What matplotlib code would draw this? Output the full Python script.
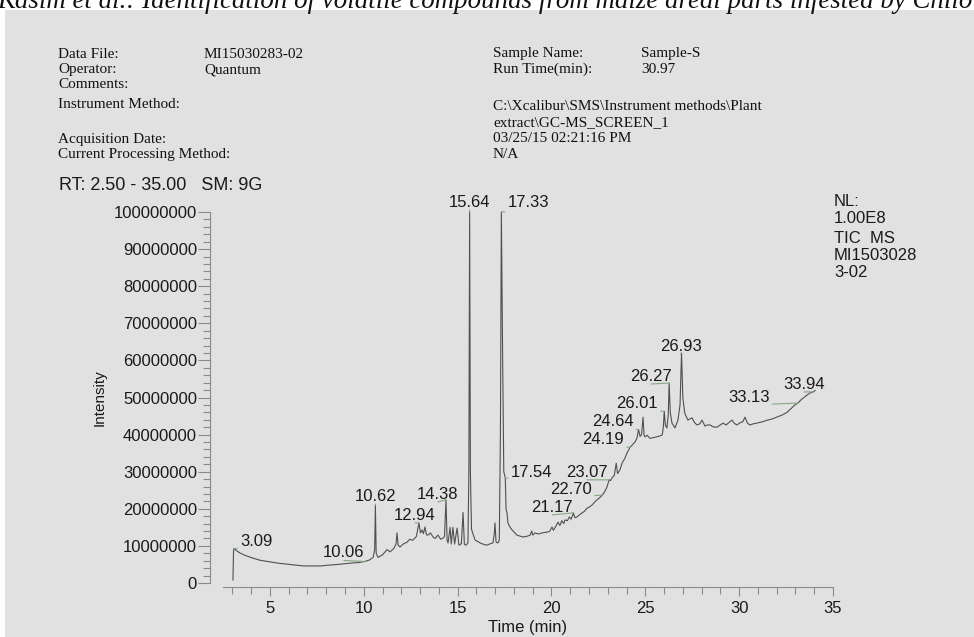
import matplotlib
matplotlib.use("Agg")
import matplotlib.pyplot as plt
from matplotlib.patches import Rectangle
from matplotlib.ticker import MultipleLocator, FixedLocator
import numpy as np

# ---------------- data ----------------
time_min = [
    3.03, 3.06, 3.09, 3.20, 3.40, 3.70, 4.10, 4.50, 5.00, 5.50, 5.90, 6.40, 6.80, 7.20, 7.70,
    8.10, 8.60, 9.00, 9.40, 9.70, 10.06, 10.30, 10.50, 10.58, 10.62, 10.66, 10.76, 11.00,
    11.24, 11.40, 11.60, 11.72, 11.77, 11.83, 11.93, 12.10, 12.30, 12.45, 12.60, 12.80,
    12.94, 13.02, 13.10, 13.18, 13.26, 13.34, 13.42, 13.55, 13.69, 13.80, 13.95, 14.10,
    14.22, 14.30, 14.38, 14.44, 14.49, 14.60, 14.66, 14.75, 14.84, 14.97, 15.07, 15.20,
    15.29, 15.36, 15.45, 15.55, 15.60, 15.64, 15.68, 15.74, 15.80, 15.93, 16.20, 16.40,
    16.56, 16.75, 16.88, 16.95, 16.99, 17.05, 17.15, 17.22, 17.28, 17.33, 17.40, 17.46,
    17.54, 17.58, 17.63, 17.68, 17.80, 17.90, 18.16, 18.48, 18.70, 18.86, 18.95, 19.00,
    19.12, 19.30, 19.50, 19.76, 19.90, 20.03, 20.10, 20.20, 20.35, 20.45, 20.55, 20.65,
    20.72, 20.85, 20.95, 21.05, 21.17, 21.25, 21.36, 21.50, 21.63, 21.75, 21.90, 22.00,
    22.16, 22.30, 22.42, 22.55, 22.70, 22.80, 22.96, 23.07, 23.15, 23.22, 23.35, 23.45,
    23.52, 23.65, 23.76, 23.92, 24.02, 24.19, 24.30, 24.45, 24.55, 24.64, 24.72, 24.80,
    24.88, 24.93, 24.98, 25.10, 25.25, 25.45, 25.60, 25.75, 25.90, 25.96, 26.01, 26.07,
    26.15, 26.22, 26.27, 26.33, 26.42, 26.58, 26.74, 26.85, 26.93, 27.00, 27.10, 27.27,
    27.40, 27.49, 27.60, 27.75, 27.90, 28.02, 28.18, 28.30, 28.45, 28.60, 28.82, 29.00,
    29.14, 29.30, 29.45, 29.62, 29.75, 29.88, 30.05, 30.20, 30.31, 30.45, 30.58, 30.75,
    30.95, 31.20, 31.50, 31.75, 32.00, 32.30, 32.55, 32.80, 32.97, 33.13, 33.30, 33.45,
    33.60, 33.77, 33.94, 34.05,
]
intensity_millions = [
    0.8, 8.5, 9.3, 8.8, 8.1, 7.4, 6.7, 6.1, 5.7, 5.3, 5.1, 4.8, 4.6, 4.6, 4.6,
    4.8, 5.0, 5.2, 5.4, 5.5, 5.8, 6.2, 6.9, 9.0, 21.0, 8.0, 6.9, 7.6,
    9.0, 8.4, 9.3, 10.5, 13.5, 10.2, 9.7, 10.5, 11.0, 11.8, 11.5, 12.5,
    16.2, 13.5, 14.3, 13.3, 15.1, 13.0, 12.9, 13.5, 12.4, 12.0, 12.9, 11.8,
    12.1, 12.5, 22.4, 11.5, 10.8, 15.0, 10.5, 15.0, 10.5, 14.8, 10.2, 10.6,
    19.0, 10.4, 10.2, 10.8, 30.0, 100.0, 30.0, 14.5, 13.5, 11.6, 10.8, 10.4,
    10.2, 10.6, 10.8, 13.0, 16.2, 11.0, 10.8, 11.5, 40.0, 100.0, 60.0, 30.0,
    28.3, 20.0, 18.9, 16.2, 15.0, 14.3, 12.9, 12.4, 12.6, 12.9, 14.0, 12.9,
    13.5, 13.2, 13.5, 13.7, 13.9, 15.1, 14.2, 15.0, 16.4, 15.5, 16.8, 16.0,
    17.0, 16.8, 17.8, 17.2, 18.9, 17.6, 17.8, 18.4, 18.9, 19.3, 20.2, 20.4,
    21.0, 21.8, 22.4, 22.9, 23.7, 24.3, 25.9, 27.8, 27.6, 28.3, 29.0, 32.3,
    29.5, 30.5, 32.3, 33.7, 35.0, 36.6, 37.2, 38.0, 39.0, 41.4, 39.5, 40.0,
    44.7, 40.0, 39.4, 39.8, 39.0, 39.2, 39.4, 39.6, 39.9, 42.0, 46.3, 42.5,
    41.8, 45.0, 53.9, 46.0, 43.1, 41.8, 43.9, 48.0, 62.0, 50.0, 45.8, 43.9,
    44.3, 44.5, 43.4, 42.6, 42.9, 43.9, 42.3, 42.6, 42.6, 42.1, 42.0, 42.6,
    43.1, 42.6, 43.2, 43.9, 43.0, 42.6, 43.2, 43.5, 44.7, 43.0, 42.6, 42.9,
    43.1, 43.4, 43.9, 44.2, 44.7, 45.3, 46.0, 47.2, 48.0, 48.5, 49.4, 50.0,
    50.6, 51.2, 51.5, 51.9,
]

peak_rt = [3.09, 10.06, 10.62, 12.94, 14.38, 15.64, 17.33, 17.54, 21.17,
           22.70, 23.07, 24.19, 24.64, 26.01, 26.27, 26.93, 33.13, 33.94]
peak_height_millions = [9.3, 5.8, 21.0, 16.2, 22.4, 100.0, 100.0, 28.3, 18.9,
                        23.7, 27.8, 36.6, 41.4, 46.3, 53.9, 62.0, 48.5, 51.5]
peak_labels = ["3.09", "10.06", "10.62", "12.94", "14.38", "15.64", "17.33", "17.54",
               "21.17", "22.70", "23.07", "24.19", "24.64", "26.01", "26.27", "26.93",
               "33.13", "33.94"]

x_tick_values = [5, 10, 15, 20, 25, 30, 35]
x_tick_labels = ["5", "10", "15", "20", "25", "30", "35"]
y_tick_values = [0, 10000000, 20000000, 30000000, 40000000, 50000000,
                 60000000, 70000000, 80000000, 90000000, 100000000]
y_tick_labels = ["0", "10000000", "20000000", "30000000", "40000000", "50000000",
                 "60000000", "70000000", "80000000", "90000000", "100000000"]

# ---------------- layout / style ----------------
# label offsets (pixels) of each peak label from its apex
label_dx = [22, -21, 0, -4, -8, 0, 27, 26, -21, -31, -22, -27, -26, -27, -18, -1, -49, -9]
label_dy = [2, 4, 4, 3, 1, 5, 5, 1, 1, 1, 3, 3, 3, 3, 2, 2, 1, 3]

W, H = 974, 637
SANS = "Liberation Sans"
SERIF = "Liberation Serif"
TXT = "#1a1a1a"
AXC = "#8a8a8a"
BG = "#e1e1e1"

fig = plt.figure(figsize=(W / 100, H / 100), dpi=100)
fig.patch.set_facecolor("white")
fig.add_artist(Rectangle((5 / W, 0), 1, (H - 10) / H, transform=fig.transFigure,
                         facecolor=BG, edgecolor="none", zorder=0))


def ftxt(x, y, s, **kw):
    kw.setdefault("color", TXT)
    fig.text(x / W, 1 - y / H, s, va="baseline", ha=kw.pop("ha", "left"), **kw)


# page caption (cut at the top edge, as on the scanned page)
ftxt(-3, 8, "Kasim et al.: Identification of volatile compounds from maize areal parts infested by Chilo",
     family=SERIF, style="italic", fontsize=19.4, color="#111111")

hs = dict(family=SERIF, fontsize=11, color="#111111")
ftxt(58, 58, "Data File:", **hs)
ftxt(204, 58, "MI15030283-02", **hs)
ftxt(58, 73, "Operator:", **hs)
ftxt(204, 73, "Quantum", **hs)
ftxt(58, 88, "Comments:", **hs)
ftxt(58, 108, "Instrument Method:", **hs)
ftxt(58, 143, "Acquisition Date:", **hs)
ftxt(58, 158, "Current Processing Method:", **hs)
ftxt(493, 57, "Sample Name:", **hs)
ftxt(641, 57, "Sample-S", **hs)
ftxt(493, 73, "Run Time(min):", **hs)
ftxt(641, 73, "30.97", **hs)
ftxt(493, 110, "C:\\Xcalibur\\SMS\\Instrument methods\\Plant", **hs)
ftxt(493, 126, "extract\\GC-MS_SCREEN_1", **hs)
ftxt(493, 142, "03/25/15 02:21:16 PM", **hs)
ftxt(493, 158, "N/A", **hs)

ftxt(59, 190, "RT: 2.50 - 35.00   SM: 9G", family=SANS, fontsize=13)

for s, yb in zip(["NL:", "1.00E8", "TIC  MS", "MI1503028", "3-02"], [206, 223, 243, 260, 277]):
    ftxt(834, yb, s, family=SANS, fontsize=12)

# ---------------- axes ----------------
ax = fig.add_axes([223 / W, 1 - 583 / H, 610 / W, 371 / H])
ax.patch.set_alpha(0)

t = np.array(time_min)
inten = np.array(intensity_millions) * 1e6
ax.plot(t, inten, color="#505050", lw=0.8, clip_on=False, zorder=3)

ax.set_xlim(2.5, 35)
ax.set_ylim(0, 1e8)

for rt, hgt, lab, dx, dy in zip(peak_rt, peak_height_millions, peak_labels, label_dx, label_dy):
    ax.annotate(lab, xy=(rt, hgt * 1e6), xytext=(dx, dy), textcoords="offset pixels",
                ha="center", va="baseline", family=SANS, fontsize=12, color=TXT,
                annotation_clip=False,
                arrowprops=dict(arrowstyle="-", color="#86a886", lw=0.8,
                                relpos=(0.5, 0.0), shrinkA=0, shrinkB=0))

for side in ["top", "right"]:
    ax.spines[side].set_visible(False)
ax.spines["left"].set_position(("outward", 13 * 0.72))
ax.spines["bottom"].set_position(("outward", 4 * 0.72))
for side in ["left", "bottom"]:
    ax.spines[side].set_color(AXC)
    ax.spines[side].set_linewidth(0.8)

ax.xaxis.set_major_locator(FixedLocator(x_tick_values))
ax.set_xticklabels(x_tick_labels)
ax.xaxis.set_minor_locator(MultipleLocator(1))
ax.yaxis.set_major_locator(FixedLocator(y_tick_values))
ax.set_yticklabels(y_tick_labels)
ax.yaxis.set_minor_locator(MultipleLocator(2000000))

ax.tick_params(axis="both", which="both", color=AXC, width=0.8, labelcolor=TXT,
               labelsize=12, direction="out")
for lab in ax.get_xticklabels() + ax.get_yticklabels():
    lab.set_family(SANS)
ax.tick_params(axis="y", which="major", length=8.6, pad=0.8)
ax.tick_params(axis="y", which="minor", length=5)
ax.tick_params(axis="x", which="major", length=6.5, pad=3.6)
ax.tick_params(axis="x", which="minor", length=5)

ax.set_xlabel("Time (min)", family=SANS, fontsize=12, color=TXT, labelpad=3)
ax.set_ylabel("Intensity", family=SANS, fontsize=11, color=TXT, labelpad=5)

fig.savefig("out.png", dpi=100, facecolor=fig.get_facecolor())
